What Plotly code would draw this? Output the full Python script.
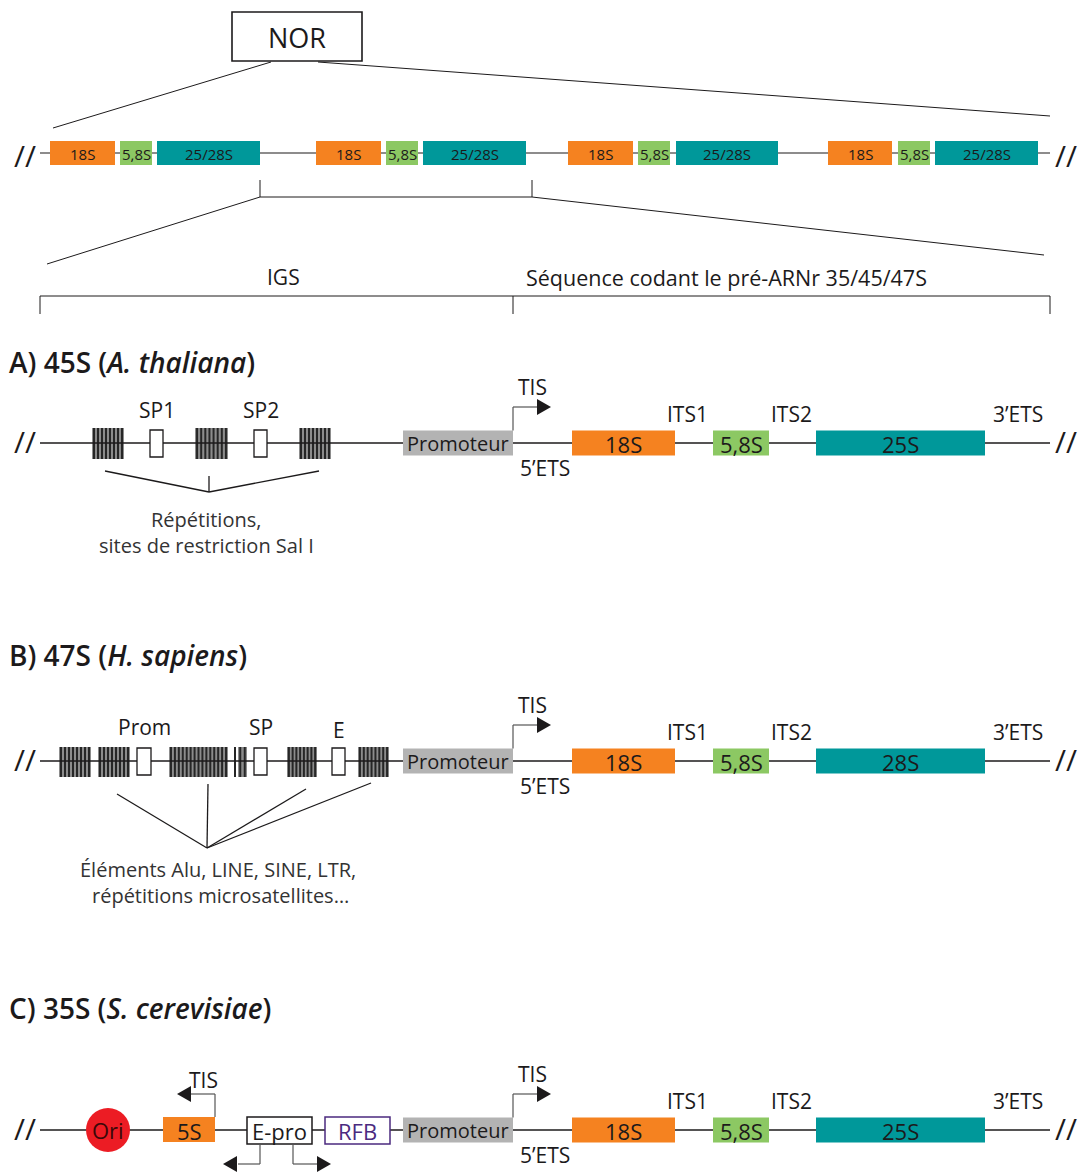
import plotly.graph_objects as go

# ---------------- data (diagram coordinates along the rDNA) ----------------
# NOR: four tandem rDNA units
nor_labels = ["18S", "5,8S", "25/28S"]
nor_18s = [[50, 115], [316, 381], [568, 633], [828, 892]]
nor_58s = [[120, 152], [386, 418], [638, 670], [898, 930]]
nor_2528s = [[157, 260], [423, 526], [676, 778], [935, 1038]]

# coding region shared by A, B, C
coding_labels_A = ["18S", "5,8S", "25S"]
coding_labels_B = ["18S", "5,8S", "28S"]
coding_labels_C = ["18S", "5,8S", "25S"]
coding_start = [572, 713, 816]
coding_end = [675, 769, 985]
spacer_labels = ["ITS1", "ITS2", "3’ETS"]
spacer_pos = [687, 791, 1018]
promoter_span = [403, 513]

# A) A. thaliana IGS
a_repeats = [[92, 124], [195, 228], [299, 331]]
a_boxes = [[150, 163], [254, 267]]
a_box_labels = ["SP1", "SP2"]

# B) H. sapiens IGS
b_repeats = [[59, 91], [98, 130], [169, 228], [234, 236], [238, 247], [287, 317], [358, 389]]
b_boxes = [[137, 151], [254, 267], [332, 345]]
b_box_labels = ["Prom", "SP", "E"]

# C) S. cerevisiae IGS
c_ori = 108
c_5s = [163, 215]
c_epro = [247, 312]
c_rfb = [325, 390]

FONT = "Open Sans"
INK = "#1c1a1b"
ORANGE = "#f58220"
GREEN = "#8cc863"
TEAL = "#00989a"
GREY = "#b3b3b3"

shapes = []
anns = []


def seg(x0, y0, x1, y1, color=INK, w=1.5):
    shapes.append(dict(type="line", xref="x", yref="y", x0=x0, y0=y0, x1=x1, y1=y1,
                       line=dict(color=color, width=w)))


def rect(x0, x1, y0, y1, fill, line=None, lw=0):
    shapes.append(dict(type="rect", xref="x", yref="y", x0=x0, x1=x1, y0=y0, y1=y1,
                       fillcolor=fill, line=dict(color=line or fill, width=lw)))


def tri(xtip, y, direction, color=INK):
    d = 14 * direction
    shapes.append(dict(type="path", xref="x", yref="y", fillcolor=color, line=dict(width=0),
                       path=f"M {xtip - d},{y - 8} L {xtip},{y} L {xtip - d},{y + 8} Z"))


def label(x, y, text, size, color=INK, anchor="center", weight=None):
    f = dict(family=FONT, size=size, color=color)
    if weight:
        f["weight"] = weight
    anns.append(dict(x=x, y=y, xref="x", yref="y", text=text, showarrow=False,
                     xanchor=anchor, yanchor="middle", font=f))


def breaks(y):
    label(25, y, "//", 30)
    label(1066, y, "//", 30)


def stripes(blocks, y0, y1, yline):
    for x0, x1 in blocks:
        rect(x0, x1, y0, y1, "#8c8c8c")
        n = max(1, round((x1 - x0) / 4))
        step = (x1 - x0) / n
        for i in range(n):
            xs = x0 + step * (i + 0.5)
            seg(xs, y0, xs, y1, color="#262626", w=2)
        seg(x0, yline, x1, yline, w=1.5)


def coding_region(y, names):
    seg(40, y, 1050, y)
    rect(promoter_span[0], promoter_span[1], y - 12.5, y + 12.5, GREY)
    label(sum(promoter_span) / 2, y, "Promoteur", 20)
    t = promoter_span[1]
    seg(t, y - 12.5, t, y - 36, color="#555555", w=1.2)
    seg(t, y - 36, t + 24, y - 36, color="#555555", w=1.2)
    tri(t + 38, y - 36, 1)
    label(t + 19, y - 56, "TIS", 21)
    label(545, y + 25, "5’ETS", 21)
    for s, e, n, c in zip(coding_start, coding_end, names, [ORANGE, GREEN, TEAL]):
        rect(s, e, y - 12.5, y + 12.5, c)
        label((s + e) / 2, y + 1, n, 22)
    for p, n in zip(spacer_pos, spacer_labels):
        label(p, y - 29, n, 21)
    breaks(y - 2)


# ---------------- NOR overview ----------------
rect(232, 362, 12, 61, "white", INK, 1.6)
label(297, 37, "NOR", 27)
seg(271, 62, 53, 128, w=1)
seg(318, 62, 1050, 116, w=1)

yr = 153
seg(40, yr, 1050, yr, w=1.2)
for unit in zip(nor_18s, nor_58s, nor_2528s):
    for (s, e), n, c in zip(unit, nor_labels, [ORANGE, GREEN, TEAL]):
        rect(s, e, yr - 12, yr + 12, c)
        label((s + e) / 2, yr + 1, n, 15)
breaks(yr + 2)

seg(260, 180, 260, 197, w=1)
seg(532, 180, 532, 197, w=1)
seg(260, 197, 532, 197, w=1)
seg(260, 197, 47, 264, w=1)
seg(532, 197, 1044, 255, w=1)

label(283, 277, "IGS", 21)
label(726, 277, "Séquence codant le pré-ARNr 35/45/47S", 21.5)
seg(40, 296, 1050, 296, w=1)
for xt in [40, 513, 1050]:
    seg(xt, 296, xt, 314, w=1)

# ---------------- A) A. thaliana ----------------
ya = 443
label(7, 362, "A) 45S (<i>A. thaliana</i>)", 28, anchor="left", weight=600)
coding_region(ya, coding_labels_A)
stripes(a_repeats, ya - 15, ya + 16, ya)
for (s, e), n in zip(a_boxes, a_box_labels):
    rect(s, e, ya - 13, ya + 14, "white", INK, 1.3)
    label((s + e) / 2, ya - 33, n, 21)
seg(105, 471, 209, 492, w=1.3)
seg(209, 476, 209, 492, w=1.3)
seg(319, 471, 209, 492, w=1.3)
label(206, 519, "Répétitions,", 20, color="#333333")
label(206, 545, "sites de restriction Sal I", 20, color="#333333")

# ---------------- B) H. sapiens ----------------
yb = 761
label(7, 655, "B) 47S (<i>H. sapiens</i>)", 28, anchor="left", weight=600)
coding_region(yb, coding_labels_B)
stripes(b_repeats, yb - 14, yb + 16, yb)
for (s, e), n in zip(b_boxes, b_box_labels):
    rect(s, e, yb - 13, yb + 14, "white", INK, 1.3)
    label((s + e) / 2, yb - 34 + (3 if n == "E" else 0), n, 21)
for x0, y0 in [(117, 794), (208, 784), (306, 789), (371, 783)]:
    seg(x0, y0, 207, 848, w=1.3)
label(218, 869, "Éléments Alu, LINE, SINE, LTR,", 20, color="#333333")
label(220, 895, "répétitions microsatellites…", 20, color="#333333")

# ---------------- C) S. cerevisiae ----------------
yc = 1130
label(7, 1008, "C) 35S (<i>S. cerevisiae</i>)", 28, anchor="left", weight=600)
coding_region(yc, coding_labels_C)
shapes.append(dict(type="circle", xref="x", yref="y", x0=c_ori - 22, x1=c_ori + 22,
                   y0=yc - 22, y1=yc + 22, fillcolor="#ec1c24", line=dict(width=0)))
label(c_ori, yc, "Ori", 22, color="#3a0808")
rect(c_5s[0], c_5s[1], yc - 13, yc + 12, ORANGE)
label(sum(c_5s) / 2, yc + 1, "5S", 22)
seg(c_5s[1], yc - 13, c_5s[1], yc - 36, color="#555555", w=1.2)
seg(c_5s[1], yc - 36, c_5s[1] - 24, yc - 36, color="#555555", w=1.2)
tri(c_5s[1] - 38, yc - 36, -1)
label(c_5s[1] - 12, yc - 50, "TIS", 21)
rect(c_epro[0], c_epro[1], yc - 13, yc + 14, "white", INK, 1.5)
label(sum(c_epro) / 2, yc + 1, "E-pro", 22)
seg(260, yc + 14, 260, yc + 34, color="#555555", w=1.2)
seg(260, yc + 34, 238, yc + 34, color="#555555", w=1.2)
tri(223, yc + 34, -1)
seg(293, yc + 14, 293, yc + 34, color="#555555", w=1.2)
seg(293, yc + 34, 317, yc + 34, color="#555555", w=1.2)
tri(331, yc + 34, 1)
rect(c_rfb[0], c_rfb[1], yc - 13, yc + 14, "white", "#4b2a7f", 1.5)
label(sum(c_rfb) / 2, yc + 1, "RFB", 22, color="#4b2a7f")

fig = go.Figure(go.Scatter(x=[], y=[]))
fig.update_layout(
    width=1078, height=1172,
    margin=dict(l=0, r=0, t=0, b=0),
    paper_bgcolor="white", plot_bgcolor="white",
    xaxis=dict(range=[0, 1078], visible=False, fixedrange=True),
    yaxis=dict(range=[1172, 0], visible=False, fixedrange=True),
    shapes=shapes, annotations=anns, showlegend=False,
)
fig.write_html("out.html", config={"displayModeBar": False},
               post_script="document.body.style.margin='0';")
